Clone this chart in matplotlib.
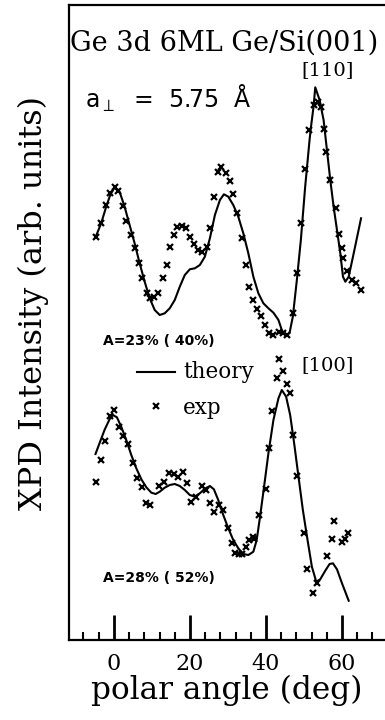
import numpy as np
import matplotlib.pyplot as plt

# polar angle (deg) and intensity (arb. units) for the two azimuths
theta_110_th = [-4.83, -3.34, -2.02, -0.96, 0.18, 1.50, 2.82, 4.14, 5.46, 6.78, 8.10,
                9.42, 10.74, 12.06, 13.37, 14.69, 16.01, 17.33, 18.65, 19.97, 21.29,
                22.61, 23.93, 25.25, 26.57, 27.89, 28.94, 30.09, 31.40, 32.72, 34.04,
                35.36, 36.68, 38.00, 39.32, 40.64, 41.96, 43.28, 44.16, 45.04, 46.18,
                47.06, 48.12, 49.17, 50.31, 51.46, 51.8, 52.51, 52.96, 54.1, 55.15,
                56.03, 56.91, 57.79, 58.67, 59.55, 60.25, 60.87, 61.75, 63.07, 65.0]
int_110_th = [402.7, 416.7, 433.3, 445, 452.7, 448.3, 433.3, 415, 396.7, 376.7, 358.3,
              341.7, 330, 325, 326.7, 331.7, 340, 353.3, 365, 370.7, 371.7,
              375, 383.3, 401.7, 425, 440, 445.7, 443.3, 435, 423.3, 406.7,
              386.7, 363.3, 346.7, 336.7, 331.7, 327.3, 320, 310, 305, 306.7,
              323.3, 360, 400, 453.3, 500, 512, 533.3, 552.7, 540, 520,
              490, 460, 433.3, 410, 386.7, 363.3, 358.3, 363.3, 386.7, 421.7]

theta_110_exp = [-4.7, -3.5, -2.2, -1.05, 0.3, 1.1, 2.3, 3.3, 4.4, 5.5, 6.5, 7.5, 8.6,
                 9.5, 10.5, 11.7, 12.8, 13.9, 14.7, 15.8, 16.7, 17.8, 18.9, 20.0,
                 21.1, 22.2, 23.3, 24.4, 25.3, 26.3, 27.5, 28.3, 29.5, 30.5, 31.4,
                 32.5, 33.6, 34.7, 35.6, 36.7, 37.7, 38.7, 39.7, 40.9, 41.9, 43.3,
                 44.4, 45.4, 47.0, 48.1, 49.1, 50.3, 51.4, 52.6, 53.8, 54.6, 55.3,
                 55.8, 56.8, 58.4, 59.3, 59.9, 60.3, 61.4, 62.5, 63.7, 64.9]
int_110_exp = [403, 417, 435, 447, 453, 449, 434, 419, 405, 392, 377, 362, 347,
               342, 343, 347, 362, 375, 393, 405, 413, 414, 412, 403,
               396, 390, 388, 393, 412, 443, 468, 473, 467, 459, 446,
               427, 402, 375, 353, 340, 331, 324, 315, 307, 305, 308,
               307, 305, 327, 367, 417, 471, 510, 535, 538, 533, 511,
               488, 460, 432, 406, 392, 382, 369, 360, 357, 350]

theta_100_th = [-4.83, -3.78, -2.46, -1.14, -0.26, 0.80, 1.94, 3.26, 4.58, 5.90, 7.22,
                8.54, 9.86, 11.0, 12.06, 13.37, 14.69, 16.01, 17.33, 18.65, 19.97,
                21.29, 22.61, 23.93, 25.25, 26.30, 27.45, 28.77, 30.09, 31.40, 32.72,
                34.04, 35.36, 36.68, 37.56, 38.44, 39.50, 40.64, 41.96, 43.28, 44.16,
                45.30, 46.36, 47.41, 48.55, 49.70, 50.93, 52.07, 53.22, 54.27, 55.59,
                56.73, 57.61, 58.67, 59.99, 61.75]
int_100_th = [186, 196.7, 210, 220.7, 225, 222.7, 213.3, 200, 185, 171.7, 160.7,
              152.7, 147.3, 146, 148.3, 152.3, 155, 156, 154, 150, 145,
              143.3, 146.7, 151.3, 154, 150.7, 140, 125, 111.7, 100, 91.7,
              86, 85, 88.3, 100, 123.3, 153.3, 186.7, 220, 241.7, 250,
              243.3, 225, 196.7, 163.3, 130, 100, 73.3, 58.3, 60.7, 69.3,
              76, 76.7, 70.7, 56.7, 39.3]

theta_100_exp = [-4.7, -3.5, -2.4, -1.05, 0.0, 1.4, 2.5, 3.8, 4.9, 6.1, 7.3, 8.4, 9.5,
                 11.9, 13.2, 14.6, 15.8, 16.9, 18.1, 19.3, 20.4, 21.6, 23.1, 24.2,
                 25.4, 26.3, 27.7, 28.8, 29.9, 31.0, 31.8, 33.0, 33.8, 34.7, 35.6,
                 36.5, 36.9, 38.2, 40.0, 40.9, 41.5, 42.8, 43.5, 44.4, 45.4, 46.3,
                 47.2, 48.1, 50.0, 50.9, 52.3, 53.5, 56.0, 57.3, 57.9, 59.9, 60.8, 61.7]
int_100_exp = [158, 180, 199, 224, 230, 213, 204, 196, 177, 162, 153, 137, 135,
               154, 158, 167, 166, 163, 168, 157, 138, 143, 154, 150,
               137, 128, 135, 130, 112, 97, 87, 86, 86, 93, 100,
               103, 101, 125, 151, 192, 229, 262, 281, 269, 256, 247,
               205, 164, 107, 71, 47, 57, 84, 101, 119, 98, 101, 107]

major_ticks = [0, 20, 40, 60]
minor_ticks = [-8, -4, 4, 8, 12, 16, 24, 28, 32, 36, 44, 48, 52, 56, 64, 68]

serif = "DejaVu Serif"

fig = plt.figure(figsize=(3.85, 7.2), dpi=100)
ax = fig.add_axes([69 / 385, 80 / 720, 316 / 385, 635 / 720])

for th, val in [(theta_110_th, int_110_th), (theta_100_th, int_100_th)]:
    ax.plot(th, val, color="black", lw=1.5)
for th, val in [(theta_110_exp, int_110_exp), (theta_100_exp, int_100_exp)]:
    ax.plot(th, val, "x", color="black", ms=5, mew=1.6)

ax.set_xlim(-11.8, 71.3)
ax.set_ylim(0, 635)
ax.set_yticks([])
ax.set_xticks(major_ticks)
ax.set_xticks(minor_ticks, minor=True)
ax.set_xticklabels([str(t) for t in major_ticks], family=serif, fontsize=16)
ax.tick_params(axis="x", which="major", direction="in", length=18, width=2,
               pad=9)
ax.tick_params(axis="x", which="minor", direction="in", length=6, width=1.5)
ax.spines["right"].set_visible(False)
for s in ["left", "bottom", "top"]:
    ax.spines[s].set_linewidth(1.6)

ax.set_xlabel("polar angle (deg)", family=serif, fontsize=22.5, labelpad=0)
fig.text(33 / 385, 1 - 303 / 720, "XPD Intensity (arb. units)", family=serif,
         fontsize=23, rotation=90, ha="center", va="center")

ax.text(-11.6, 597, "Ge 3d 6ML Ge/Si(001)", family=serif, fontsize=19.5,
        ha="left", va="center")
ax.text(56.1, 570, "[110]", family=serif, fontsize=14, ha="center", va="center")
ax.text(-7.6, 542, r"a$_{\perp}$  =  5.75  Å", fontsize=17, ha="left", va="center")
ax.text(-2.9, 299, "A=23% ( 40%)", fontsize=10, fontweight="bold",
        ha="left", va="center")
ax.text(-2.9, 62, "A=28% ( 52%)", fontsize=10, fontweight="bold",
        ha="left", va="center")
ax.text(56.3, 275, "[100]", family=serif, fontsize=14, ha="center", va="center")

# hand-drawn key
ax.plot([6.0, 16.1], [268, 268], color="black", lw=1.5)
ax.text(18.2, 268, "theory", family=serif, fontsize=15.5, ha="left", va="center")
ax.plot([11.1], [234], "x", color="black", ms=5, mew=1.6)
ax.text(18.2, 232, "exp", family=serif, fontsize=15.5, ha="left", va="center")

fig.savefig("out.png", dpi=100)
